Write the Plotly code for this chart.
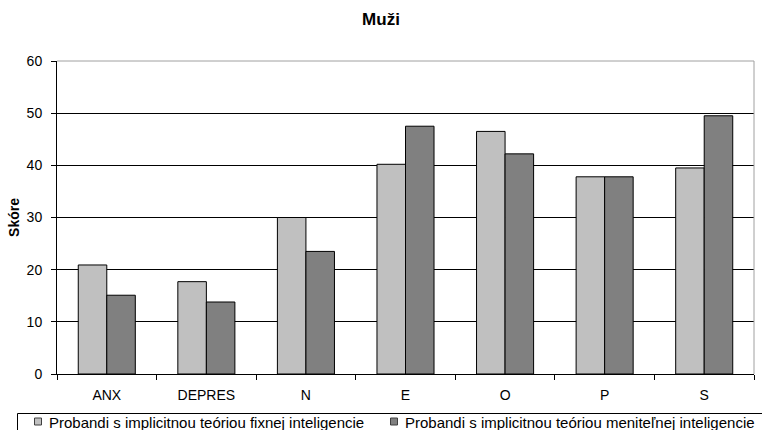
import plotly.graph_objects as go

# Scale categories and mean scores for the two groups of men
categories = ["ANX", "DEPRES", "N", "E", "O", "P", "S"]
fixed_scores = [20.9, 17.7, 30.0, 40.2, 46.5, 37.8, 39.5]
growth_scores = [15.1, 13.8, 23.5, 47.5, 42.2, 37.8, 49.5]
series_names = [
    "Probandi s implicitnou teóriou fixnej inteligencie",
    "Probandi s implicitnou teóriou meniteľnej inteligencie",
]
series_colors = ["#C0C0C0", "#808080"]
y_ticks = [0, 10, 20, 30, 40, 50, 60]

W, H = 762, 430
L, R, T, B = 57, 8, 61, 56
PW, PH = W - L - R, H - T - B
FONT = "Liberation Sans, Arial, sans-serif"


def px_x(px):
    return (px - L) / PW


def px_y(py):
    return (H - B - py) / PH


fig = go.Figure()
for name, vals, col in zip(series_names, [fixed_scores, growth_scores], series_colors):
    fig.add_trace(go.Bar(
        x=categories, y=vals, name=name,
        marker=dict(color=col, line=dict(color="#000000", width=1)),
        showlegend=False,
    ))

shapes = [
    # plot-area frame (top and right edges)
    dict(type="line", xref="paper", yref="paper", x0=0, x1=1, y0=1, y1=1,
         line=dict(color="#A0A0A0", width=1), layer="above"),
    dict(type="line", xref="paper", yref="paper", x0=1, x1=1, y0=0, y1=1,
         line=dict(color="#A0A0A0", width=1), layer="above"),
    # legend frame
    dict(type="rect", xref="paper", yref="paper",
         x0=px_x(17.5), x1=px_x(775), y0=px_y(413.5), y1=px_y(445),
         line=dict(color="#000000", width=1), fillcolor="rgba(0,0,0,0)"),
]
annotations = []

# legend entries: swatch + label
legend_x = [34.5, 390.5]
for lx, name, col in zip(legend_x, series_names, series_colors):
    shapes.append(dict(
        type="rect", xref="paper", yref="paper",
        x0=px_x(lx), x1=px_x(lx + 7), y0=px_y(418), y1=px_y(425),
        fillcolor=col, line=dict(color="#404040", width=1),
    ))
    annotations.append(dict(
        text=name, xref="paper", yref="paper", x=px_x(lx + 12), y=px_y(422),
        xanchor="left", yanchor="middle", showarrow=False,
        font=dict(family=FONT, size=15, color="#000000"),
    ))

fig.update_layout(
    width=W, height=H,
    margin=dict(l=L, r=R, t=T, b=B, pad=0),
    paper_bgcolor="#FFFFFF", plot_bgcolor="#FFFFFF",
    barmode="group", bargap=0.427, bargroupgap=0,
    title=dict(text="<b>Muži</b>", x=0.5, xref="container", xanchor="center",
               y=1 - 19 / H, yref="container", yanchor="middle",
               font=dict(family=FONT, size=17, color="#000000")),
    font=dict(family=FONT, color="#000000"),
    shapes=shapes, annotations=annotations,
    showlegend=False,
)

fig.update_xaxes(
    type="category", showline=True, linecolor="#000000", linewidth=1,
    ticks="outside", tickson="boundaries", ticklen=5, tickcolor="#000000",
    tickfont=dict(family=FONT, size=14, color="#000000"),
    ticklabelstandoff=8, showgrid=False,
)
fig.update_yaxes(
    range=[0, 60], tickvals=y_ticks, showline=True, linecolor="#000000",
    linewidth=1, ticks="outside", ticklen=5, tickcolor="#000000",
    tickfont=dict(family=FONT, size=14, color="#000000"),
    ticklabelstandoff=6,
    showgrid=True, gridcolor="#000000", gridwidth=1, zeroline=False,
    title=dict(text="<b>Skóre</b>", font=dict(family=FONT, size=14, color="#000000"),
               standoff=3),
)

fig.write_html("out.html")
